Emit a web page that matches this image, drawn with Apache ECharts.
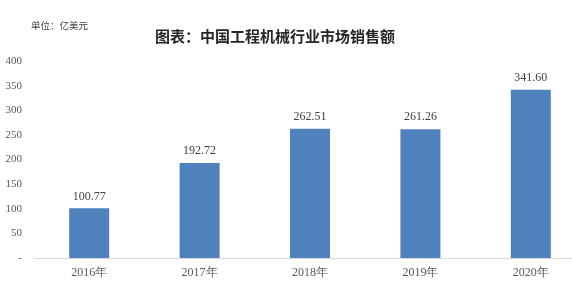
<!DOCTYPE html>
<html><head><meta charset="utf-8">
<script src="https://cdn.jsdelivr.net/npm/echarts@6/dist/echarts.min.js"></script>
<style>html,body{margin:0;padding:0;background:#fff}#c{width:572px;height:292px}</style>
</head><body><div id="c"></div>
<script>
var categories = ['2016年','2017年','2018年','2019年','2020年'];
var sales = [100.77, 192.72, 262.51, 261.26, 341.60];
var yTicks = [0, 50, 100, 150, 200, 250, 300, 350, 400];

var chart = echarts.init(document.getElementById('c'));
chart.setOption({
  animation: false,
  backgroundColor: '#fff',
  title: [
    {text: '图表：中国工程机械行业市场销售额', left: 270, top: 24, textAlign: 'center',
     textStyle: {fontFamily: 'Noto Sans CJK SC', fontWeight: 'bold', fontSize: 15, color: '#262626'}},
    {text: '单位：亿美元', left: 26, top: 16,
     textStyle: {fontFamily: 'Noto Sans CJK SC', fontWeight: 'normal', fontSize: 9.5, color: '#404040'}}
  ],
  grid: {left: 34, width: 552, top: 61, height: 197, outerBoundsMode: 'none', containLabel: false},
  xAxis: {
    type: 'category', data: categories,
    axisLine: {lineStyle: {color: '#d9d9d9', width: 1}},
    axisTick: {show: false},
    axisLabel: {fontFamily: 'Liberation Serif', fontSize: 12, color: '#595959', margin: 9}
  },
  yAxis: {
    type: 'value', min: yTicks[0], max: yTicks[yTicks.length-1], interval: 50,
    axisLine: {show: false}, axisTick: {show: false}, splitLine: {show: false},
    axisLabel: {fontFamily: 'Liberation Serif', fontSize: 11, color: '#595959', margin: 12,
      formatter: function(v){ return v === 0 ? '-' : String(v); }}
  },
  series: [{
    type: 'bar', data: sales, barWidth: 40,
    itemStyle: {color: '#4F81BD'},
    label: {show: true, position: 'top', distance: 6, fontFamily: 'Liberation Serif', fontSize: 12, color: '#404040',
      formatter: function(p){ return p.value.toFixed(2); }}
  }]
});
</script></body></html>
